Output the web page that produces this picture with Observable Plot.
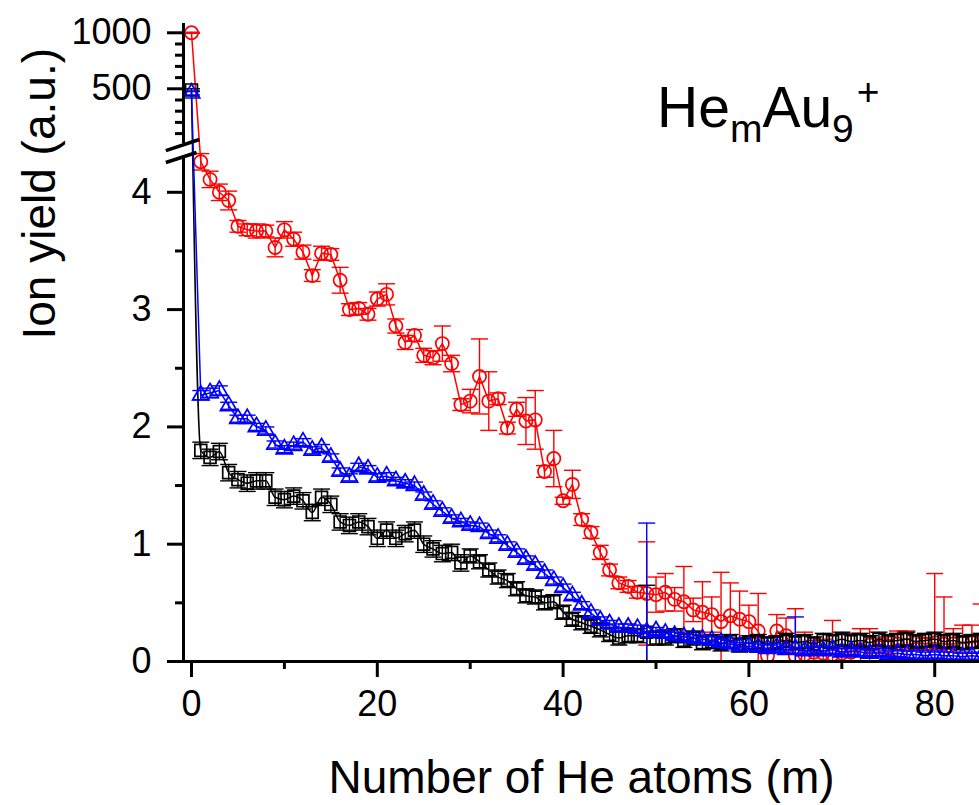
<!DOCTYPE html>
<html>
<head>
<meta charset="utf-8">
<script src="https://cdn.jsdelivr.net/npm/d3@7"></script>
<script src="https://cdn.jsdelivr.net/npm/@observablehq/plot@0.6"></script>
<style>
  body { margin: 0; background: #fff; }
  #wrap { position: relative; width: 979px; height: 805px; font-family: "Liberation Sans", Arial, sans-serif; }
  #chart svg { display: block; }
  #title { position: absolute; left: 657px; top: 79px; font-size: 57px; line-height: 1; white-space: nowrap; color: #000; }
  #title .sb { font-size: 39px; vertical-align: -15px; line-height: 0; }
  #title .sp { font-size: 39px; vertical-align: 22px; line-height: 0; margin-left: 3px; }
</style>
</head>
<body>
<div id="wrap">
  <div id="chart"></div>
  <div id="title">He<span class="sb">m</span>Au<span class="sb">9</span><span class="sp">+</span></div>
</div>
<script>
// ---------------- data (index = number of He atoms m) ----------------
const redValues = [
  1000, 4.26, 4.11, 4.00, 3.93, 3.71, 3.68, 3.67, 3.67, 3.53,
  3.68, 3.60, 3.49, 3.29, 3.48, 3.47, 3.25, 3.00, 3.01, 2.96,
  3.09, 3.13, 2.86, 2.72, 2.78, 2.61, 2.59, 2.71, 2.54, 2.19,
  2.22, 2.43, 2.22, 2.24, 1.99, 2.15, 2.05, 2.06, 1.62, 1.73,
  1.37, 1.51, 1.21, 1.10, 0.93, 0.78, 0.67, 0.64, 0.59, 0.58,
  0.57, 0.59, 0.53, 0.51, 0.44, 0.42, 0.40, 0.34, 0.39, 0.36,
  0.34, 0.26, 0.05, 0.26, 0.22, 0.05, 0.06, 0.08, 0.07, 0.06,
  0.07, 0.08, 0.10, 0.14, 0.12, 0.13, 0.15, 0.14, 0.16, 0.15,
  0.16, 0.15, 0.15, 0.16, 0.16, 0.17
];
const redErrors = [
  5, 0.07, 0.07, 0.07, 0.08, 0.05, 0.05, 0.06, 0.05, 0.08,
  0.07, 0.06, 0.06, 0.05, 0.06, 0.05, 0.11, 0.05, 0.05, 0.05,
  0.06, 0.09, 0.06, 0.06, 0.05, 0.06, 0.06, 0.15, 0.07, 0.05,
  0.10, 0.32, 0.25, 0.05, 0.05, 0.06, 0.20, 0.25, 0.05, 0.24,
  0.03, 0.12, 0.05, 0.05, 0.06, 0.05, 0.05, 0.05, 0.05, 0.44,
  0.15, 0.16, 0.10, 0.30, 0.10, 0.26, 0.15, 0.42, 0.28, 0.24,
  0.14, 0.32, 0.05, 0.14, 0.15, 0.40, 0.19, 0.10, 0.12, 0.29,
  0.16, 0.16, 0.18, 0.14, 0.08, 0.08, 0.11, 0.12, 0.06, 0.05,
  0.59, 0.40, 0.13, 0.15, 0.15, 0.32
];
const blueValues = [
  460, 2.27, 2.29, 2.31, 2.18, 2.07, 2.07, 2.00, 1.97, 1.85,
  1.81, 1.84, 1.87, 1.80, 1.82, 1.74, 1.62, 1.57, 1.66, 1.64,
  1.57, 1.58, 1.54, 1.52, 1.50, 1.415, 1.34, 1.28, 1.22, 1.19,
  1.16, 1.15, 1.09, 1.05, 0.99, 0.93, 0.87, 0.82, 0.75, 0.69,
  0.63, 0.56, 0.48, 0.41, 0.35, 0.32, 0.29, 0.29, 0.28, 0.25,
  0.26, 0.24, 0.22, 0.21, 0.20, 0.19, 0.18, 0.16, 0.15, 0.13,
  0.13, 0.12, 0.11, 0.12, 0.10, 0.11, 0.09, 0.10, 0.09, 0.10,
  0.08, 0.09, 0.08, 0.07, 0.08, 0.06, 0.07, 0.06, 0.06, 0.05,
  0.06, 0.05, 0.05, 0.04, 0.05, 0.04
];
const blueErrors = [
  15, 0.04, 0.04, 0.04, 0.03, 0.03, 0.03, 0.03, 0.03, 0.03,
  0.03, 0.03, 0.03, 0.03, 0.03, 0.03, 0.03, 0.03, 0.03, 0.03,
  0.03, 0.03, 0.03, 0.03, 0.03, 0.03, 0.03, 0.03, 0.03, 0.03,
  0.03, 0.03, 0.03, 0.03, 0.03, 0.03, 0.03, 0.03, 0.03, 0.03,
  0.03, 0.03, 0.03, 0.03, 0.03, 0.03, 0.03, 0.03, 0.03, 0.93,
  0.03, 0.03, 0.03, 0.03, 0.03, 0.03, 0.03, 0.03, 0.03, 0.03,
  0.03, 0.03, 0.03, 0.03, 0.03, 0.27, 0.03, 0.03, 0.03, 0.03,
  0.03, 0.03, 0.03, 0.03, 0.03, 0.03, 0.03, 0.03, 0.03, 0.03,
  0.03, 0.03, 0.03, 0.03, 0.03, 0.03
];
const blackValues = [
  490, 1.80, 1.74, 1.79, 1.61, 1.55, 1.52, 1.54, 1.54, 1.40,
  1.38, 1.41, 1.37, 1.27, 1.40, 1.34, 1.19, 1.16, 1.19, 1.15,
  1.05, 1.12, 1.05, 1.09, 1.12, 1.00, 0.96, 0.92, 0.93, 0.84,
  0.90, 0.85, 0.78, 0.72, 0.69, 0.62, 0.56, 0.55, 0.50, 0.51,
  0.42, 0.36, 0.33, 0.30, 0.27, 0.23, 0.20, 0.22, 0.22, 0.25,
  0.20, 0.20, 0.22, 0.18, 0.20, 0.16, 0.17, 0.15, 0.17, 0.14,
  0.16, 0.17, 0.15, 0.16, 0.18, 0.16, 0.17, 0.15, 0.18, 0.17,
  0.19, 0.17, 0.18, 0.16, 0.19, 0.17, 0.18, 0.19, 0.17, 0.18,
  0.19, 0.17, 0.18, 0.16, 0.17, 0.18
];
const blackErrors = [
  10, 0.07, 0.07, 0.07, 0.07, 0.07, 0.07, 0.07, 0.07, 0.07,
  0.07, 0.07, 0.07, 0.07, 0.07, 0.07, 0.07, 0.07, 0.07, 0.07,
  0.07, 0.07, 0.07, 0.07, 0.07, 0.07, 0.07, 0.07, 0.07, 0.07,
  0.06, 0.06, 0.06, 0.06, 0.06, 0.06, 0.06, 0.06, 0.06, 0.06,
  0.06, 0.06, 0.06, 0.06, 0.06, 0.06, 0.06, 0.06, 0.06, 0.40,
  0.06, 0.06, 0.06, 0.06, 0.06, 0.06, 0.06, 0.06, 0.06, 0.06,
  0.06, 0.06, 0.06, 0.06, 0.06, 0.06, 0.06, 0.06, 0.06, 0.06,
  0.06, 0.06, 0.06, 0.06, 0.06, 0.06, 0.06, 0.06, 0.06, 0.06,
  0.06, 0.06, 0.06, 0.06, 0.06, 0.06
];

const xMajorTicks = [0, 20, 40, 60, 80];
const xMinorTicks = [10, 30, 50, 70];
const yMajorTicks = [0, 1, 2, 3, 4, 500, 1000];
const yMinorTicks = [0.5, 1.5, 2.5, 3.5, 100, 200, 300, 400, 600, 700, 800, 900];
const xLabel = "Number of He atoms (m)";
const yLabel = "Ion yield (a.u.)";

// ---------------- broken y axis ----------------
const LOWER_MAX = 4.297;      // top of lower segment
const UPPER_MIN = 11.5;       // bottom of upper segment
const UPPER_MAX = 1083;       // top of upper segment
const UPPER_START = 4.416;    // where the upper segment starts in scale units
const UPPER_SCALE = 0.0009548;
const T = v => v <= 4.5 ? v : UPPER_START + (v - UPPER_MIN) * UPPER_SCALE;
const yTop = T(UPPER_MAX);
const X_MIN = -0.86, X_MAX = 84.82;

const mk = (vals, errs) => vals.map((v, i) => ({m: i, v, e: errs[i]}));
const red = mk(redValues, redErrors);
const blue = mk(blueValues, blueErrors);
const black = mk(blackValues, blackErrors);

const cap = {draw(ctx, size) { const w = Math.sqrt(size / Math.PI); ctx.moveTo(-w, 0); ctx.lineTo(w, 0); }};

function series(data, color, symbol, r, curve) {
  return [
    Plot.ruleX(data, {x: "m", y1: d => T(d.v - d.e), y2: d => T(d.v + d.e), stroke: color, strokeWidth: 1.4, clip: true}),
    Plot.dot(data, {x: "m", y: d => T(d.v + d.e), symbol: cap, r: 8.5, stroke: color, fill: "none", strokeWidth: 1.4, clip: true}),
    Plot.dot(data, {x: "m", y: d => T(d.v - d.e), symbol: cap, r: 8.5, stroke: color, fill: "none", strokeWidth: 1.4, clip: true}),
    Plot.line(data, {x: "m", y: d => T(d.v), stroke: color, strokeWidth: 1.5, curve, clip: true}),
    Plot.dot(data, {x: "m", y: d => T(d.v), symbol, r, stroke: color, fill: "none", strokeWidth: 1.7, clip: true})
  ];
}

const yLabelMap = new Map(yMajorTicks.map(v => [T(v), String(v)]));

const chart = Plot.plot({
  width: 979,
  height: 805,
  marginLeft: 183,
  marginRight: 0,
  marginTop: 23,
  marginBottom: 144,
  style: {fontFamily: "'Liberation Sans', Arial, sans-serif", fontSize: "36px", color: "#000", background: "#fff", overflow: "visible"},
  x: {domain: [X_MIN, X_MAX], axis: null},
  y: {domain: [0, yTop], axis: null},
  marks: [
    ...series(red, "#ff0000", "circle", 6.6, "linear"),
    ...series(black, "#000000", "square", 6.7, "monotone-x"),
    ...series(blue, "#0000ff", "triangle", 6.1, "linear"),
    // axis frame
    Plot.ruleY([0], {strokeWidth: 3}),
    Plot.ruleX([{x: X_MIN, y1: 0, y2: LOWER_MAX}, {x: X_MIN, y1: UPPER_START, y2: yTop}], {x: "x", y1: "y1", y2: "y2", strokeWidth: 3}),
    Plot.link([
      {x1: X_MIN - 1.9, y1: UPPER_START - 0.06, x2: X_MIN + 1.72, y2: UPPER_START + 0.034},
      {x1: X_MIN - 1.9, y1: LOWER_MAX - 0.043, x2: X_MIN + 1.4, y2: LOWER_MAX + 0.042}
    ], {x1: "x1", y1: "y1", x2: "x2", y2: "y2", strokeWidth: 3.5, stroke: "#000"}),
    Plot.axisY(yMajorTicks.map(T), {tickSize: 16, tickPadding: 16, strokeWidth: 3, tickFormat: t => yLabelMap.get(t), fontSize: 36, label: null}),
    Plot.axisY(yMinorTicks.map(T), {tickSize: 8, strokeWidth: 3, tickFormat: () => "", label: null}),
    Plot.axisX(xMajorTicks, {tickSize: 16, tickPadding: 13, strokeWidth: 3, fontSize: 36, label: null}),
    Plot.axisX(xMinorTicks, {tickSize: 8, strokeWidth: 3, tickFormat: () => "", label: null}),
    Plot.text([xLabel], {frameAnchor: "bottom", dy: 117, fontSize: 46, lineAnchor: "middle"}),
    Plot.text([yLabel], {frameAnchor: "left", dx: -143, dy: -3, rotate: -90, fontSize: 46, lineAnchor: "middle"})
  ]
});
document.getElementById("chart").appendChild(chart);
</script>
</body>
</html>
